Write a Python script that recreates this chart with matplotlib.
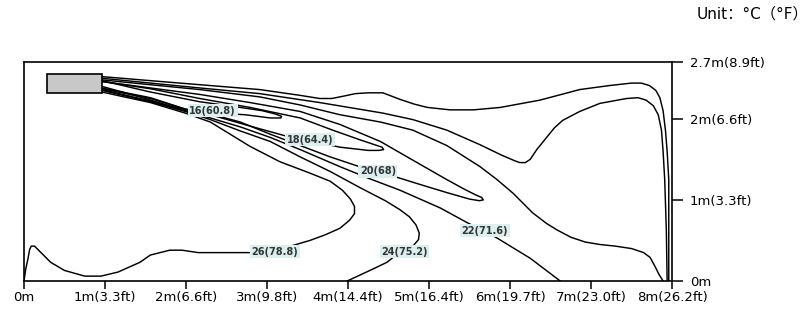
import matplotlib.pyplot as plt
from matplotlib.patches import Rectangle

# room size (m)
room_w = 8.0
room_h = 2.7

# tick labels
x_ticks = [0, 1, 2, 3, 4, 5, 6, 7, 8]
x_labels = ["0m", "1m(3.3ft)", "2m(6.6ft)", "3m(9.8ft)", "4m(14.4ft)",
            "5m(16.4ft)", "6m(19.7ft)", "7m(23.0ft)", "8m(26.2ft)"]
y_ticks = [0, 1, 2, 2.7]
y_labels = ["0m", "1m(3.3ft)", "2m(6.6ft)", "2.7m(8.9ft)"]

# indoor unit (x0, x1, y0, y1)
unit_box = [0.28, 0.96, 2.32, 2.55]

# isotherms, traced as (x, y) in metres
line_top = [(0.96, 2.52), (1.56, 2.47), (2.17, 2.42), (2.91, 2.36), (3.40, 2.29),
            (3.65, 2.25), (3.80, 2.25), (3.95, 2.28), (4.09, 2.31), (4.25, 2.32),
            (4.43, 2.32), (4.64, 2.24), (4.82, 2.18), (4.98, 2.14), (5.26, 2.11),
            (5.55, 2.11), (5.88, 2.14), (6.37, 2.23), (6.86, 2.36), (7.23, 2.41),
            (7.50, 2.44), (7.62, 2.44), (7.72, 2.41), (7.80, 2.35), (7.85, 2.26),
            (7.89, 2.10), (7.92, 1.85), (7.94, 1.60), (7.96, 1.25), (7.96, 0.0)]
line_mid = [(0.96, 2.50), (1.56, 2.44), (2.17, 2.38), (2.91, 2.31), (3.65, 2.20),
            (4.43, 2.07), (4.80, 1.99), (5.22, 1.86), (5.63, 1.68), (5.90, 1.55),
            (6.04, 1.49), (6.12, 1.46), (6.19, 1.46), (6.25, 1.50), (6.33, 1.62),
            (6.46, 1.78), (6.55, 1.89), (6.65, 1.98), (6.86, 2.09), (7.11, 2.19),
            (7.44, 2.25), (7.58, 2.26), (7.68, 2.23), (7.77, 2.16), (7.83, 2.05),
            (7.87, 1.86), (7.89, 1.60), (7.91, 1.25), (7.93, 0.63), (7.94, 0.0)]
line_low = [(0.96, 2.48), (1.56, 2.42), (2.17, 2.36), (2.91, 2.27), (3.41, 2.17),
            (3.90, 2.05), (4.40, 1.96), (4.80, 1.86), (5.22, 1.67), (5.63, 1.41),
            (5.84, 1.25), (6.04, 1.08), (6.28, 0.84), (6.45, 0.71), (6.58, 0.63),
            (6.75, 0.54), (6.93, 0.48), (7.11, 0.45), (7.30, 0.43), (7.50, 0.40),
            (7.65, 0.35), (7.73, 0.29), (7.79, 0.18), (7.84, 0.08), (7.89, 0.0)]
iso_16 = [(0.96, 2.47), (1.56, 2.33), (2.17, 2.21), (2.67, 2.14), (2.94, 2.10),
          (3.10, 2.06), (3.18, 2.03), (3.17, 2.01), (3.04, 2.01), (2.73, 2.05),
          (2.36, 2.07), (2.05, 2.10), (1.80, 2.16), (1.43, 2.27), (0.96, 2.40)]
iso_18 = [(0.96, 2.46), (1.56, 2.37), (2.17, 2.25), (2.79, 2.14), (3.41, 2.01),
          (3.81, 1.86), (4.15, 1.74), (4.33, 1.68), (4.42, 1.65), (4.44, 1.62),
          (4.38, 1.61), (4.25, 1.61), (3.90, 1.65), (3.53, 1.73), (3.26, 1.78),
          (2.79, 1.91), (2.30, 2.05), (1.99, 2.12), (1.56, 2.26), (0.96, 2.38)]
iso_20 = [(0.96, 2.46), (1.56, 2.38), (2.17, 2.30), (2.79, 2.20), (3.41, 2.09),
          (3.90, 1.93), (4.40, 1.72), (4.80, 1.49), (5.22, 1.25), (5.44, 1.13),
          (5.58, 1.06), (5.65, 1.03), (5.67, 1.00), (5.62, 0.99), (5.50, 1.01),
          (5.22, 1.09), (4.89, 1.19), (4.60, 1.28), (4.37, 1.35), (4.17, 1.40),
          (3.78, 1.53), (3.41, 1.67), (3.04, 1.81), (2.67, 1.96), (2.30, 2.06),
          (1.99, 2.12), (1.56, 2.25), (0.96, 2.37)]
iso_22 = [(0.96, 2.36), (1.56, 2.22), (1.99, 2.10), (2.30, 2.01), (2.67, 1.90),
          (3.04, 1.77), (3.41, 1.62), (3.90, 1.41), (4.27, 1.26), (4.64, 1.12),
          (5.14, 0.90), (5.47, 0.72), (5.67, 0.62), (5.84, 0.53), (6.25, 0.28),
          (6.62, 0.0)]
iso_24 = [(0.96, 2.35), (1.56, 2.21), (1.99, 2.09), (2.30, 1.99), (2.67, 1.85),
          (3.04, 1.72), (3.41, 1.53), (3.78, 1.35), (4.15, 1.15), (4.46, 0.99),
          (4.64, 0.88), (4.76, 0.79), (4.84, 0.69), (4.88, 0.59), (4.87, 0.51),
          (4.81, 0.44), (4.70, 0.38), (4.58, 0.31), (4.48, 0.23), (4.27, 0.13),
          (3.99, 0.0)]
iso_26 = [(0.96, 2.33), (1.56, 2.20), (1.99, 2.07), (2.30, 1.96), (2.79, 1.66),
          (3.16, 1.47), (3.53, 1.33), (3.78, 1.23), (3.93, 1.12), (4.03, 1.01),
          (4.08, 0.92), (4.08, 0.83), (4.02, 0.75), (3.90, 0.65), (3.72, 0.57),
          (3.53, 0.50), (3.12, 0.38), (2.79, 0.35), (2.40, 0.35), (2.15, 0.35),
          (1.95, 0.38), (1.80, 0.38), (1.56, 0.32), (1.43, 0.23), (1.16, 0.11),
          (0.95, 0.06), (0.75, 0.06), (0.50, 0.13), (0.33, 0.23), (0.20, 0.36),
          (0.13, 0.43), (0.09, 0.43), (0.07, 0.39), (0.05, 0.28), (0.02, 0.14),
          (0.0, 0.0)]

isotherms = [line_top, line_mid, line_low, iso_16, iso_18, iso_20, iso_22, iso_24, iso_26]

# labels: text and where they sit on the line
label_text = ["16(60.8)", "18(64.4)", "20(68)", "22(71.6)", "24(75.2)", "26(78.8)"]
label_x = [2.33, 3.53, 4.37, 5.69, 4.70, 3.10]
label_y = [2.10, 1.74, 1.35, 0.62, 0.36, 0.36]

plt.rcParams['font.family'] = ['DejaVu Sans', 'Noto Sans CJK SC']

fig = plt.figure(figsize=(8.1, 3.15), dpi=100)
ax = fig.add_axes([24 / 810, 34 / 315, 648 / 810, 219 / 315])

for line in isotherms:
    xs = [p[0] for p in line]
    ys = [p[1] for p in line]
    ax.plot(xs, ys, color='black', lw=1.05, solid_joinstyle='round', zorder=2)

ax.add_patch(Rectangle((unit_box[0], unit_box[2]), unit_box[1] - unit_box[0],
                       unit_box[3] - unit_box[2], facecolor='#c8c8c8',
                       edgecolor='black', lw=1.2, zorder=4))

for t, lx, ly in zip(label_text, label_x, label_y):
    ax.text(lx, ly, t, fontsize=7, fontweight='bold', color='#333333',
            ha='center', va='center', zorder=5,
            bbox=dict(boxstyle='square,pad=0.15', facecolor='#dcefef', edgecolor='none'))

ax.set_xlim(0, room_w)
ax.set_ylim(0, room_h)

ax.set_xticks(x_ticks)
ax.set_xticklabels(x_labels, fontsize=9.5)
ax.yaxis.tick_right()
ax.set_yticks(y_ticks)
ax.set_yticklabels(y_labels, fontsize=9.5)
ax.tick_params(axis='x', direction='out', length=6, width=1.1, pad=1)
ax.tick_params(axis='y', direction='out', length=8, width=1.1, pad=5)
for s in ax.spines.values():
    s.set_linewidth(1.2)

fig.text(697 / 810, 1 - 14 / 315, "Unit：°C（°F）", fontsize=11, ha='left', va='center')

fig.savefig('out.png', dpi=100)
